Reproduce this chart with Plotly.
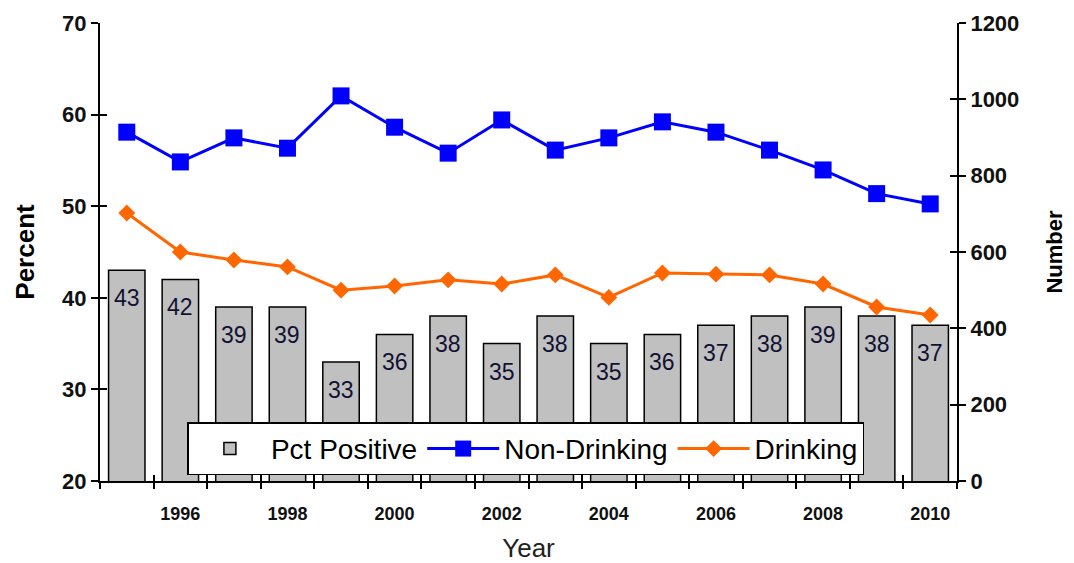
import plotly.graph_objects as go

years = list(range(1995, 2011))
pct_positive = [43, 42, 39, 39, 33, 36, 38, 35, 38, 35, 36, 37, 38, 39, 38, 37]
non_drinking = [914, 836, 899, 872, 1009, 927, 859, 946, 867, 899, 941, 914, 867, 815, 753, 726]
drinking = [702, 600, 579, 561, 500, 511, 527, 516, 540, 481, 545, 542, 540, 516, 456, 435]
year_labels = [1996, 1998, 2000, 2002, 2004, 2006, 2008, 2010]
boundaries = [y + 0.5 for y in range(1994, 2011)]

BOLD = "Liberation Sans, Arial, sans-serif"

fig = go.Figure()
fig.add_trace(go.Bar(
    x=years, y=pct_positive, name="Pct Positive", width=0.68,
    marker=dict(color="#C0C0C0", line=dict(color="black", width=1.5)),
    base=0, yaxis="y",
))
fig.add_trace(go.Scatter(
    x=years, y=non_drinking, name="Non-Drinking", yaxis="y2", mode="lines+markers",
    line=dict(color="#0000FF", width=3),
    marker=dict(symbol="square", size=17, color="#0000FF"),
))
fig.add_trace(go.Scatter(
    x=years, y=drinking, name="Drinking", yaxis="y2", mode="lines+markers",
    line=dict(color="#FF6600", width=3),
    marker=dict(symbol="diamond", size=13, color="#FF6600"),
))

for yr, v in zip(years, pct_positive):
    fig.add_annotation(x=yr, y=v, xref="x", yref="y", text=str(v), showarrow=False,
                       yanchor="top", yshift=-13,
                       font=dict(family="Liberation Sans, Arial", size=23, color="#111133"))

xr = [1994.5, 2010.5]
fig.update_layout(
    width=1066, height=555,
    margin=dict(l=92, r=117, t=15, b=82),
    plot_bgcolor="white", paper_bgcolor="white",
    showlegend=True,
    legend=dict(orientation="h", x=0.102, y=0.128, xanchor="left", yanchor="top",
                bgcolor="white", bordercolor="black", borderwidth=1.5,
                font=dict(family="Liberation Sans, Arial", size=28, color="black"),
                itemwidth=72, tracegroupgap=0, traceorder="normal"),
    xaxis=dict(range=xr, tickmode="array", tickvals=boundaries, showticklabels=False,
               ticks="outside", ticklen=6, tickwidth=2, tickcolor="black", automargin=False,
               showline=True, linecolor="black", linewidth=2, showgrid=False, zeroline=False,
               title=dict(text="Year", font=dict(family="Liberation Sans, Arial", size=26, color="#222"), standoff=51)),
    xaxis2=dict(range=xr, overlaying="x", side="bottom", anchor="y", tickmode="array",
                tickvals=year_labels, ticktext=[str(v) for v in year_labels], automargin=False,
                ticks="outside", ticklen=16, tickcolor="rgba(0,0,0,0)", showline=False,
                showgrid=False, zeroline=False,
                tickfont=dict(family=BOLD, size=18, color="#111", weight="bold")),
    xaxis3=dict(range=xr, overlaying="x", side="bottom", anchor="y", tickmode="array", automargin=False,
                tickvals=boundaries, showticklabels=False, ticks="inside", ticklen=6,
                tickwidth=2, tickcolor="black", showline=False, showgrid=False, zeroline=False),
    yaxis=dict(range=[20, 70], tickmode="linear", tick0=20, dtick=10, automargin=False,
               ticks="outside", ticklen=7, tickwidth=2, tickcolor="black",
               showline=True, linecolor="black", linewidth=2, showgrid=False, zeroline=False,
               tickfont=dict(family=BOLD, size=22, color="#111", weight="bold"),
               title=dict(text="Percent", font=dict(family=BOLD, size=26, color="black", weight="bold"), standoff=20)),
    yaxis2=dict(range=[0, 1200], tickmode="linear", tick0=0, dtick=200, overlaying="y", side="right",
                anchor="x", ticks="outside", ticklen=7, tickwidth=2, tickcolor="black", automargin=False,
                showline=True, linecolor="black", linewidth=2, showgrid=False, zeroline=False,
                tickfont=dict(family=BOLD, size=22, color="#111", weight="bold"),
                title=dict(text="Number", font=dict(family=BOLD, size=22, color="black", weight="bold"), standoff=28)),
    yaxis3=dict(range=[20, 70], tickmode="linear", tick0=20, dtick=10, overlaying="y", side="left",
                anchor="x", ticks="inside", ticklen=7, tickwidth=2, tickcolor="black", automargin=False,
                showticklabels=False, showline=False, showgrid=False, zeroline=False),
    yaxis4=dict(range=[0, 1200], tickmode="linear", tick0=0, dtick=200, overlaying="y", side="right",
                anchor="x", ticks="inside", ticklen=7, tickwidth=2, tickcolor="black", automargin=False,
                showticklabels=False, showline=False, showgrid=False, zeroline=False),
)
fig.add_trace(go.Scatter(x=[1995], y=[20], xaxis="x2", yaxis="y3", mode="markers",
                         marker=dict(opacity=0), showlegend=False, hoverinfo="skip"))
fig.add_trace(go.Scatter(x=[1995], y=[0], xaxis="x3", yaxis="y4", mode="markers",
                         marker=dict(opacity=0), showlegend=False, hoverinfo="skip"))

fig.write_html("out.html")
